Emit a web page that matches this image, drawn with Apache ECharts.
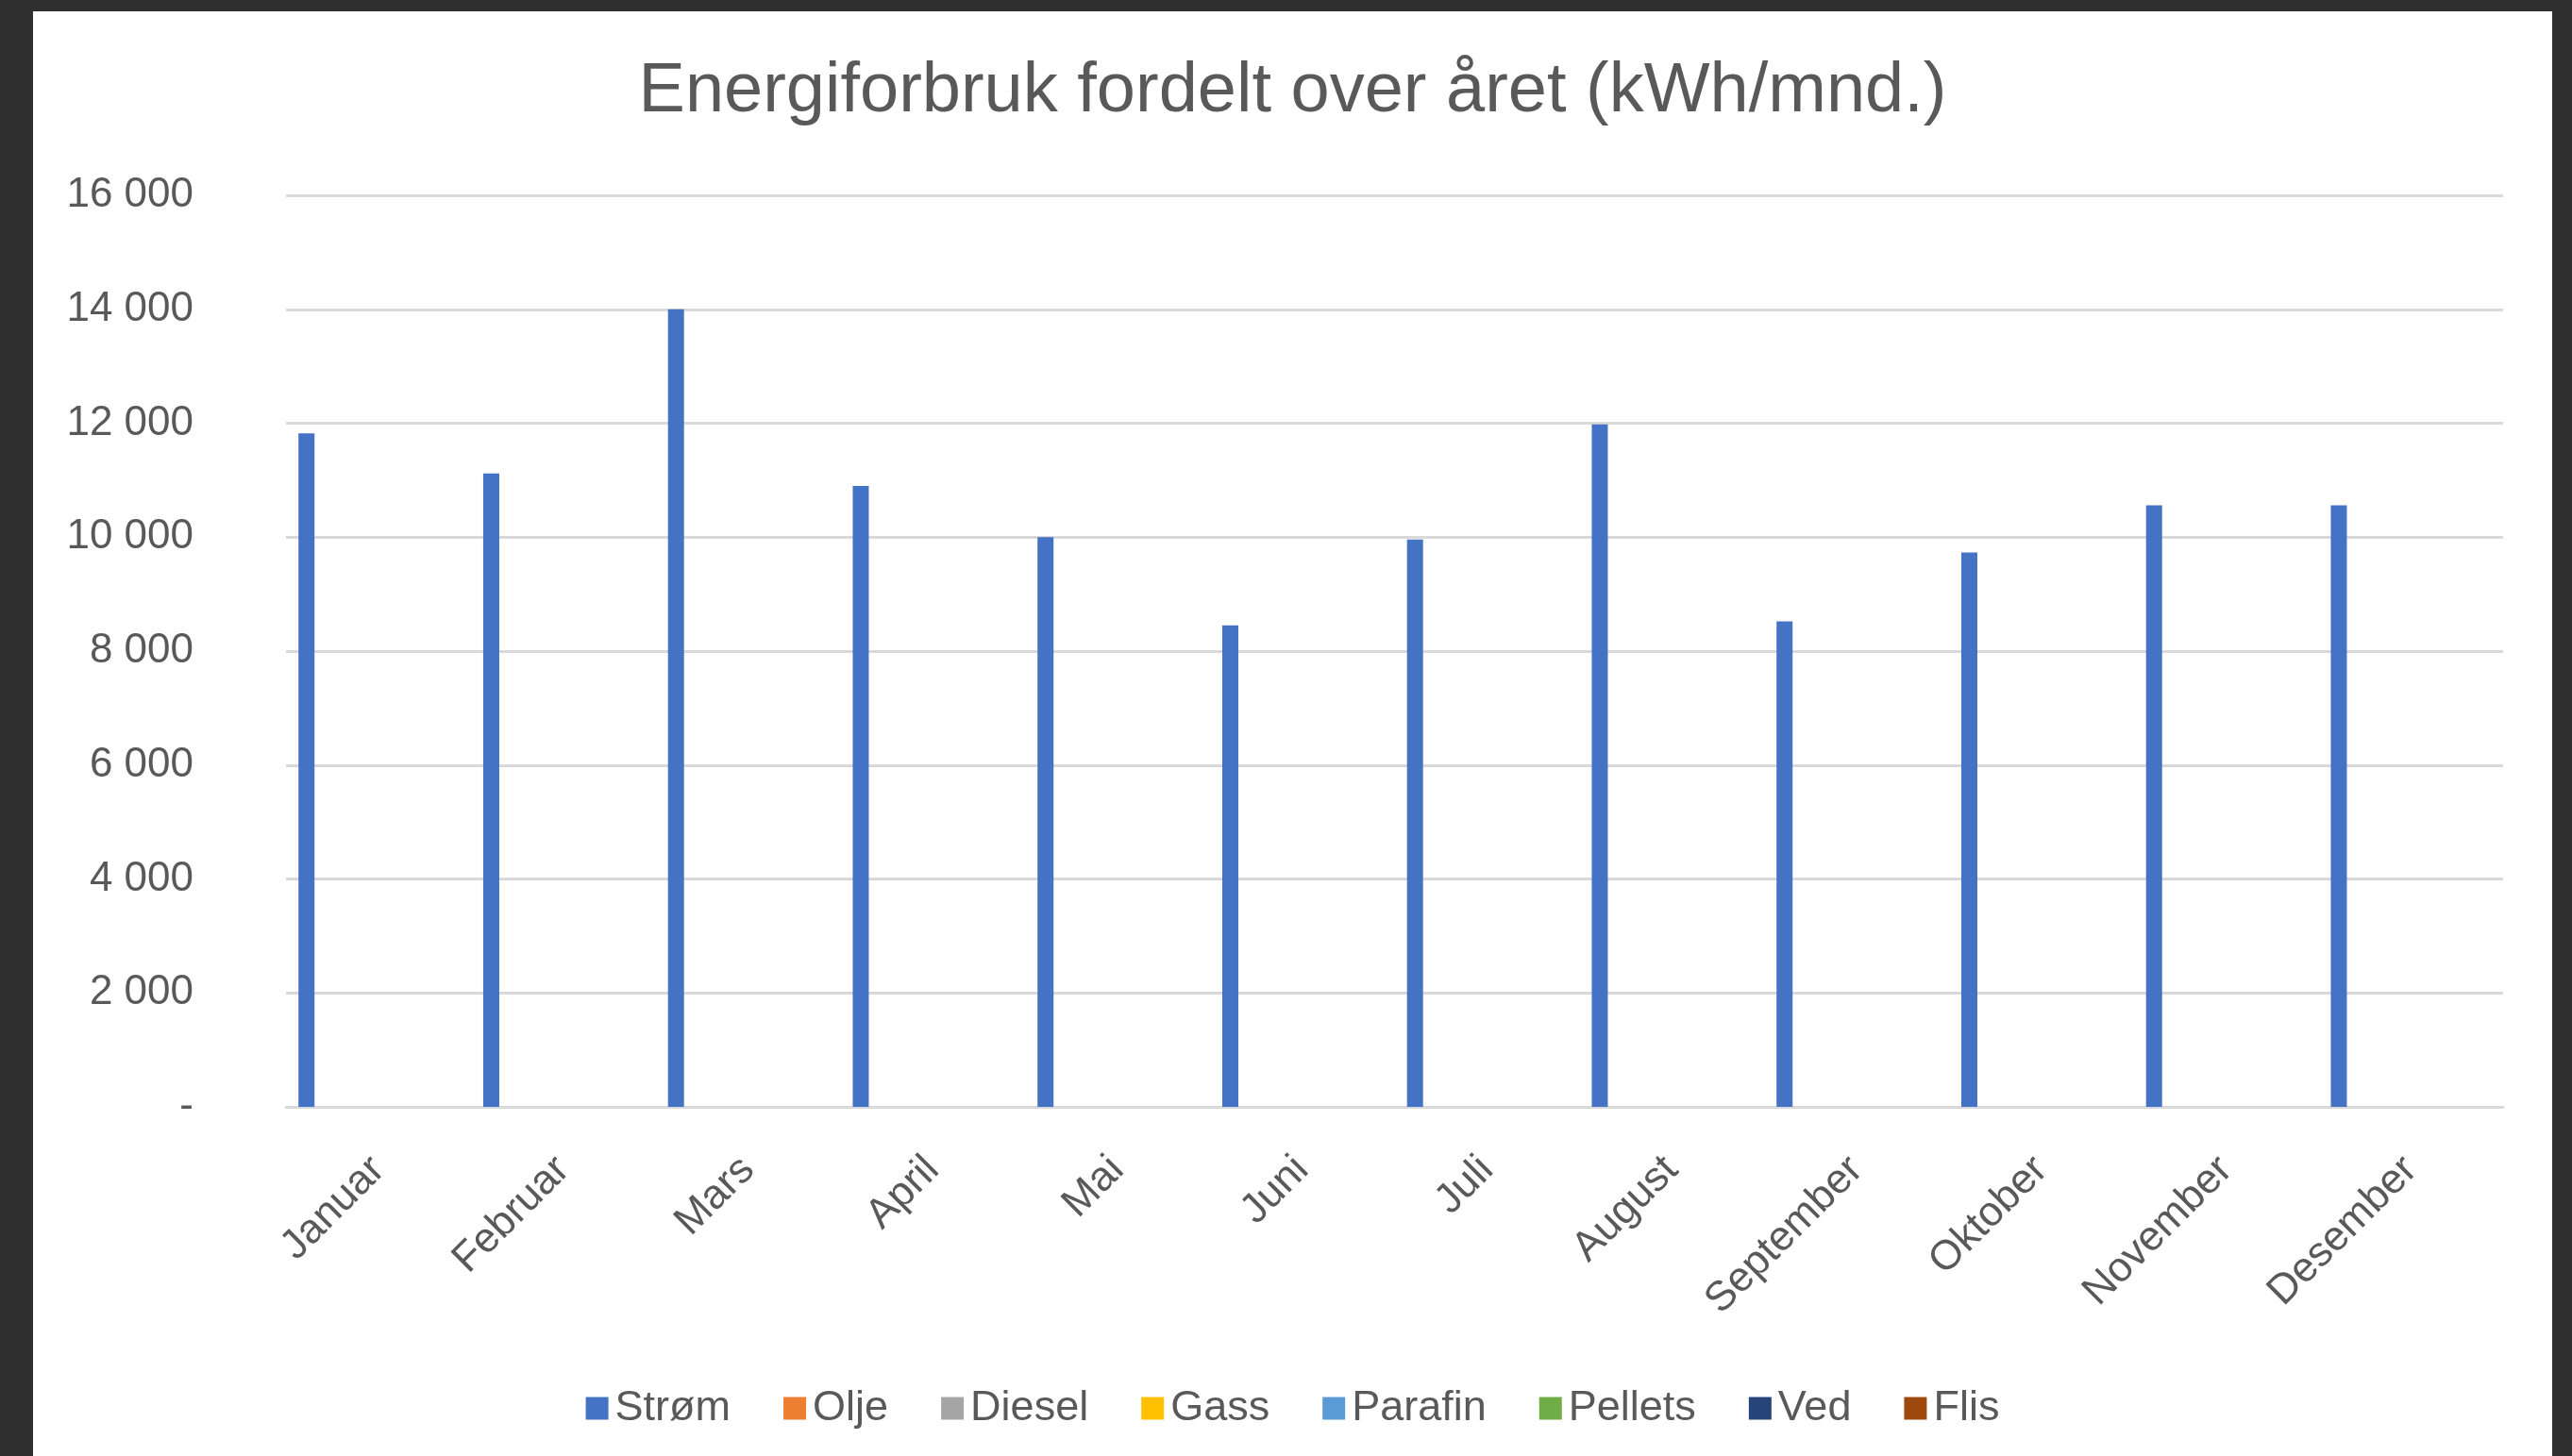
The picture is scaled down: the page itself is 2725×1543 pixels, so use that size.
<!DOCTYPE html>
<html>
<head>
<meta charset="utf-8">
<script src="https://cdn.jsdelivr.net/npm/echarts@6/dist/echarts.min.js"></script>
<style>
html,body{margin:0;padding:0;width:2725px;height:1543px;background:#2f2f2f;overflow:hidden;}
#chart{position:absolute;left:35px;top:12px;width:2669px;height:1531px;background:#ffffff;}
</style>
</head>
<body>
<div id="chart"></div>
<script>
const titleText = 'Energiforbruk fordelt over året (kWh/mnd.)';
const months = ['Januar','Februar','Mars','April','Mai','Juni','Juli','August','September','Oktober','November','Desember'];
const seriesNames = ['Strøm','Olje','Diesel','Gass','Parafin','Pellets','Ved','Flis'];
const seriesColors = ['#4472C4','#ED7D31','#A5A5A5','#FFC000','#5B9BD5','#70AD47','#264478','#9E480E'];
const strom   = [11820, 11120, 14000, 10900, 10000, 8450, 9960, 11980, 8520, 9730, 10560, 10560];
const olje    = [0,0,0,0,0,0,0,0,0,0,0,0];
const diesel  = [0,0,0,0,0,0,0,0,0,0,0,0];
const gass    = [0,0,0,0,0,0,0,0,0,0,0,0];
const parafin = [0,0,0,0,0,0,0,0,0,0,0,0];
const pellets = [0,0,0,0,0,0,0,0,0,0,0,0];
const ved     = [0,0,0,0,0,0,0,0,0,0,0,0];
const flis    = [0,0,0,0,0,0,0,0,0,0,0,0];
const seriesData = [strom, olje, diesel, gass, parafin, pellets, ved, flis];
const yMin = 0, yMax = 16000, yStep = 2000;

const font = 'Liberation Sans';
const chart = echarts.init(document.getElementById('chart'));
chart.setOption({
  animation: false,
  backgroundColor: '#ffffff',
  color: seriesColors,
  title: {
    text: titleText,
    left: 'center',
    top: 44,
    textStyle: {fontFamily: font, fontSize: 74, fontWeight: 'normal', color: '#595959'}
  },
  legend: {
    bottom: 23,
    left: 'center',
    itemWidth: 24,
    itemHeight: 24,
    itemGap: 56,
    icon: 'rect',
    textStyle: {fontFamily: font, fontSize: 45, color: '#595959', padding: [0,0,0,2]},
    data: seriesNames
  },
  grid: {left: 268, right: 52, top: 195, bottom: 370, containLabel: false},
  xAxis: {
    type: 'category',
    data: months,
    boundaryGap: true,
    axisLine: {lineStyle: {color: '#d9d9d9', width: 3}},
    axisTick: {show: false},
    axisLabel: {rotate: 45, margin: 60, interval: 0, fontFamily: font, fontSize: 44, color: '#595959'}
  },
  yAxis: {
    type: 'value',
    min: yMin, max: yMax, interval: yStep,
    axisLine: {show: false},
    axisTick: {show: false},
    splitLine: {lineStyle: {color: '#d9d9d9', width: 3}},
    axisLabel: {
      margin: 98,
      fontFamily: font, fontSize: 44, color: '#595959',
      formatter: function (v) { return v === 0 ? '-' : String(v).replace(/\B(?=(\d{3})+(?!\d))/g, ' '); }
    }
  },
  series: seriesNames.map(function (name, i) {
    return {
      name: name,
      type: 'bar',
      data: seriesData[i],
      barWidth: 17,
      barGap: '28%',
      itemStyle: {color: seriesColors[i]}
    };
  })
});
</script>
</body>
</html>
